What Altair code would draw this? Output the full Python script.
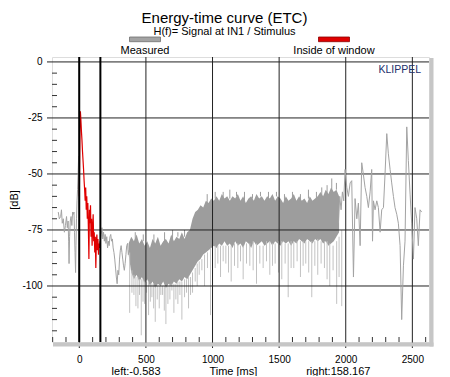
import altair as alt
import pandas as pd

# ---------------- data ----------------
# measured curve, sparse parts (time ms, level dB)
t_a = [-158, -150, -140, -134, -128, -120, -112, -104, -96, -90, -84, -80, -77, -73, -68, -62, -56, -50,
       -44, -40, -36, -32, -28, -25, -21, -17, -13, -9, -5]
d_a = [-67, -70, -69, -66, -72, -70, -76, -73, -69, -74, -71, -80, -90, -78, -71, -69, -73, -67,
       -68, -67, -76, -85, -94, -82, -70, -62, -57, -50, -42]
t_b = [158, 164, 170, 176, 182, 188, 194, 200, 206, 212, 218, 224, 230, 236, 242, 248, 254, 260, 266,
       272, 278, 284, 290, 296, 302, 308, 314, 320, 326, 332, 338, 344, 350, 356, 362, 368, 374]
d_b = [-80, -77, -74, -79, -76, -80, -77, -81, -78, -83, -80, -82, -78, -77, -80, -79, -83, -85, -88,
       -92, -96, -99, -93, -95, -88, -84, -82, -85, -88, -91, -93, -90, -86, -82, -81, -86, -84]
t_c = [1945, 1955, 1965, 1975, 1985, 1995, 2008, 2020, 2033, 2045, 2058, 2070, 2083, 2095, 2108, 2120,
       2132, 2145, 2158, 2170, 2183, 2195, 2201, 2208, 2220, 2233, 2245, 2258, 2270, 2283, 2295, 2308,
       2320, 2333, 2345, 2358, 2370, 2383, 2395, 2408, 2420, 2433, 2445, 2458, 2470, 2483, 2495, 2508,
       2520, 2533, 2545, 2558, 2570]
d_c = [-72, -60, -66, -58, -62, -48, -56, -60, -54, -53, -96, -61, -70, -63, -82, -45,
       -50, -56, -60, -65, -58, -48, -80, -62, -66, -62, -65, -76, -66, -65, -50, -32,
       -41, -48, -54, -60, -65, -68, -72, -82, -115, -91, -80, -29, -44, -59, -72, -88,
       -65, -70, -82, -66, -67]

# measured curve, dense noise band (upper / lower edge), every 20 ms
t_band = [370, 390, 410, 430, 450, 470, 490, 510, 530, 550, 570, 590, 610, 630, 650, 670, 690, 710,
          730, 750, 770, 790, 810, 830, 850, 870, 890, 910, 930, 950, 970, 990, 1010, 1030, 1050,
          1070, 1090, 1110, 1130, 1150, 1170, 1190, 1210, 1230, 1250, 1270, 1290, 1310, 1330, 1350,
          1370, 1390, 1410, 1430, 1450, 1470, 1490, 1510, 1530, 1550, 1570, 1590, 1610, 1630, 1650,
          1670, 1690, 1710, 1730, 1750, 1770, 1790, 1810, 1830, 1850, 1870, 1890, 1910, 1930, 1950]
band_hi = [-81, -78, -80, -77, -81, -79, -82, -80, -83, -79, -81, -78, -82, -80, -79, -81, -77, -80,
           -78, -79, -76, -79, -76, -75, -70, -67, -66, -64, -65, -62, -63, -61, -62, -60, -62,
           -59, -61, -60, -62, -60, -61, -59, -62, -60, -63, -61, -60, -62, -59, -61,
           -60, -62, -60, -61, -59, -62, -60, -61, -63, -60, -62, -61, -59, -62, -60,
           -62, -61, -63, -60, -62, -61, -60, -58, -60, -57, -59, -56, -58, -57, -60]
band_lo = [-86, -94, -97, -95, -98, -96, -99, -97, -100, -98, -101, -99, -100, -98, -101, -99, -100, -98,
           -99, -97, -98, -96, -97, -95, -93, -91, -89, -88, -86, -85, -84, -83, -82, -83, -81,
           -82, -80, -82, -81, -83, -80, -82, -81, -83, -80, -81, -83, -80, -82, -81,
           -80, -82, -81, -80, -82, -80, -81, -82, -80, -81, -80, -82, -80, -81, -79,
           -80, -81, -79, -80, -81, -79, -80, -79, -81, -80, -82, -81, -80, -78, -76]

# measured curve, deep dips below the band
dip_t = [378, 395, 410, 425, 440, 452, 465, 478, 490, 505, 520, 533, 545, 558, 570, 585, 600, 612, 625,
         638, 650, 665, 680, 695, 710, 725, 740, 755, 770, 790, 805, 820, 835, 850, 870, 885, 900, 920,
         940, 962, 985, 1000, 1020, 1040, 1060, 1080, 1100, 1120, 1140, 1165, 1190, 1210, 1230, 1255,
         1280, 1305, 1330, 1355, 1380, 1405, 1430, 1450, 1470, 1495, 1520, 1545, 1568, 1590, 1610, 1635,
         1660, 1680, 1700, 1722, 1745, 1768, 1790, 1815, 1840, 1860, 1880, 1905, 1932, 1950, 1970]
dip_top = [-85, -93, -95, -96, -96, -97, -97, -97, -98, -98, -98, -99, -99, -99, -100, -100, -100, -100,
           -100, -100, -100, -100, -99, -99, -99, -99, -98, -98, -98, -97, -97, -96, -96, -94, -92, -90,
           -89, -88, -86, -85, -83, -83, -82, -82, -82, -82, -82, -82, -82, -81, -81, -82, -82, -81,
           -81, -80, -81, -82, -82, -80, -80, -81, -81, -80, -80, -81, -81, -80, -80, -80, -80, -80,
           -80, -80, -80, -80, -79, -80, -80, -80, -81, -82, -80, -78, -75]
dip_bot = [-112, -103, -104, -109, -110, -104, -122, -107, -108, -103, -113, -107, -105, -110, -116,
           -106, -110, -104, -104, -111, -117, -108, -106, -102, -112, -106, -108, -104, -115, -105,
           -103, -110, -104, -103, -98, -100, -95, -93, -100, -92, -113, -95, -92, -90, -96, -89,
           -90, -94, -98, -91, -92, -89, -97, -90, -91, -93, -99, -90, -92, -89, -95, -91, -90, -94,
           -97, -90, -105, -92, -92, -89, -96, -91, -90, -94, -105, -91, -95, -90, -92, -97, -100,
           -93, -108, -96, -109]

# measured curve, short peaks above the band
peak_t = [420, 480, 560, 640, 700, 740, 790, 960, 1020, 1080, 1130, 1180, 1240, 1300, 1360, 1420, 1480,
          1540, 1600, 1660, 1720, 1780, 1820, 1860, 1895, 1930]
peak_lo = [-80, -80, -81, -80, -79, -78, -78, -63, -61, -61, -61, -60, -62, -61, -60, -61, -60, -62,
           -61, -62, -61, -61, -60, -59, -58, -57]
peak_hi = [-76, -77, -77, -76, -75, -76, -75, -59, -58, -58, -57, -58, -58, -59, -58, -58, -58, -59,
           -58, -59, -57, -58, -56, -55, -52, -54]

# inside of window (red)
t_red = [0, 5, 8, 12, 16, 20, 24, 28, 32, 36, 40, 44, 48, 52, 56, 60, 64, 68, 72, 76, 80, 84, 88, 92,
         96, 100, 104, 108, 112, 116, 120, 124, 128, 132, 136, 140, 144, 148, 152, 156]
d_red = [-60, -30, -22, -26, -31, -35, -40, -44, -48, -53, -57, -62, -56, -66, -60, -70, -63, -74, -88,
         -66, -72, -64, -78, -70, -82, -74, -68, -80, -76, -85, -78, -92, -80, -77, -84, -79, -86, -81,
         -83, -80]

window_pos = [-0.583, 158.167]
series_names = ["Measured", "Inside of window"]
series_colors = ["#a3a3a3", "#e00000"]
series_edges = ["#6e6e6e", "#8a0000"]
x_major = [0, 500, 1000, 1500, 2000, 2500]
y_major = [0, -25, -50, -75, -100]
x_minor = [v for v in range(-200, 2601, 100) if v % 500 != 0]
y_minor = [v for v in range(-120, 0, 5) if v % 25 != 0]

TITLE = "Energy-time curve (ETC)"
SUBTITLE = "H(f)= Signal at IN1 / Stimulus"
NB = "\u00a0" * 16
X_TITLE = "left:-0.583" + NB + "Time [ms]" + NB + "right:158.167"
Y_TITLE = "[dB]"
BRAND = "KLIPPEL"

# ---------------- layout constants (pixels, relative to the plot area) ----------------
W, H = 377, 285
LEG_CENTERS = [93, 282]      # centre of each legend key
LEG_HALF = 15.5              # half width of a legend key
LEG_TOP, LEG_BOT = -20, -15.3
LEG_TEXT_Y = -3.5
FONT = "Liberation Sans"

# ---------------- frames ----------------
gray_df = pd.concat([
    pd.DataFrame({"t": t_a, "d": d_a, "seg": "a"}),
    pd.DataFrame({"t": t_b, "d": d_b, "seg": "b"}),
    pd.DataFrame({"t": t_c, "d": d_c, "seg": "c"}),
])
red_df = pd.DataFrame({"t": t_red, "d": d_red})
band_df = pd.DataFrame({"t": t_band, "hi": band_hi, "lo": band_lo})
dip_df = pd.DataFrame({"t": dip_t, "top": dip_top, "bot": dip_bot})
peak_df = pd.DataFrame({"t": peak_t, "lo": peak_lo, "hi": peak_hi})
win_df = pd.DataFrame({"t": window_pos})

xs = alt.Scale(domain=[-205, 2625], nice=False, zero=False)
ys = alt.Scale(domain=[-125, 2.2], nice=False, zero=False)

x_axis = alt.Axis(
    values=x_major, labelExpr="'' + datum.value", labelOverlap=False,
    title=X_TITLE, ticks=False, domain=False, grid=False,
    labelPadding=12, labelFontSize=10, labelColor="#000",
    titleFontSize=11, titleFontWeight="normal", titlePadding=1, titleColor="#000",
    labelFont=FONT, titleFont=FONT,
)
y_axis = alt.Axis(
    values=y_major, labelExpr="'' + datum.value", labelOverlap=False,
    title=Y_TITLE, ticks=False, domain=False, grid=False,
    labelPadding=10, labelFontSize=10, labelColor="#000",
    titleFontSize=11, titleFontWeight="normal", titlePadding=2, titleColor="#000",
    labelFont=FONT, titleFont=FONT,
)

band = alt.Chart(band_df).mark_area(color="#9d9d9d").encode(
    x=alt.X("t:Q", scale=xs, axis=x_axis), y=alt.Y("lo:Q", scale=ys, axis=y_axis), y2="hi:Q")
dips = alt.Chart(dip_df).mark_rule(color="#c2c2c2", strokeWidth=1).encode(
    x=alt.X("t:Q", scale=xs), y=alt.Y("top:Q", scale=ys), y2="bot:Q")
peaks = alt.Chart(peak_df).mark_rule(color="#9d9d9d", strokeWidth=1).encode(
    x=alt.X("t:Q", scale=xs), y=alt.Y("lo:Q", scale=ys), y2="hi:Q")

# grid lines and ticks (from the tick arrays, placed through the scales)
grid_x = alt.Chart(pd.DataFrame({"v": x_major})).mark_rule(color="#222", strokeWidth=1).encode(
    x=alt.X("v:Q", scale=xs), y=alt.value(0), y2=alt.value(H + 6))
grid_y = alt.Chart(pd.DataFrame({"v": y_major})).mark_rule(color="#222", strokeWidth=1).encode(
    y=alt.Y("v:Q", scale=ys), x=alt.value(-5), x2=alt.value(W))
tick_x = alt.Chart(pd.DataFrame({"v": x_minor})).mark_rule(color="#333", strokeWidth=1).encode(
    x=alt.X("v:Q", scale=xs), y=alt.value(H), y2=alt.value(H - 5))
tick_y = alt.Chart(pd.DataFrame({"v": y_minor})).mark_rule(color="#333", strokeWidth=1).encode(
    y=alt.Y("v:Q", scale=ys), x=alt.value(0), x2=alt.value(5))

gray_line = alt.Chart(gray_df).mark_line(strokeWidth=1, color=series_colors[0]).encode(
    x=alt.X("t:Q", scale=xs), y=alt.Y("d:Q", scale=ys), detail="seg:N", order="t:Q")
red_line = alt.Chart(red_df).mark_line(strokeWidth=1.2, color=series_colors[1]).encode(
    x=alt.X("t:Q", scale=xs), y=alt.Y("d:Q", scale=ys), order="t:Q")
win = alt.Chart(win_df).mark_rule(color="#000", strokeWidth=2).encode(x=alt.X("t:Q", scale=xs))

# legend: a key bar with its label underneath, one per series
legend_layers = []
for name, col, edge, cx in zip(series_names, series_colors, series_edges, LEG_CENTERS):
    one = pd.DataFrame({"name": [name]})
    legend_layers.append(alt.Chart(one).mark_rect(fill=col, stroke=edge, strokeWidth=0.8).encode(
        x=alt.value(cx - LEG_HALF), x2=alt.value(cx + LEG_HALF),
        y=alt.value(LEG_TOP), y2=alt.value(LEG_BOT)))
    legend_layers.append(alt.Chart(one).mark_text(
        align="center", baseline="alphabetic", fontSize=11, font=FONT, color="#000").encode(
        text="name:N", x=alt.value(cx), y=alt.value(LEG_TEXT_Y)))

brand = alt.Chart(pd.DataFrame({"txt": [BRAND]})).mark_text(
    align="right", baseline="alphabetic", fontSize=10.5, font=FONT, color="#23306b"
).encode(text="txt:N", x=alt.value(W - 8), y=alt.value(16))

shadow_r = alt.Chart(pd.DataFrame({"k": [0]})).mark_rule(color="#c6c6c6", strokeWidth=4).encode(
    x=alt.value(W + 2.5), y=alt.value(1), y2=alt.value(H + 4.5))
shadow_b = alt.Chart(pd.DataFrame({"k": [0]})).mark_rule(color="#c6c6c6", strokeWidth=4).encode(
    x=alt.value(1), x2=alt.value(W + 4.5), y=alt.value(H + 2.5))

chart = alt.layer(band, dips, peaks, grid_x, grid_y, tick_x, tick_y, gray_line, red_line, win,
                  brand, shadow_r, shadow_b, *legend_layers).properties(
    width=W, height=H,
    title=alt.TitleParams(TITLE, subtitle=SUBTITLE, anchor="middle", dx=-16, fontSize=15,
                          fontWeight="normal", font=FONT, subtitleFont=FONT, subtitleFontSize=11,
                          subtitleColor="#000", color="#000", offset=0, subtitlePadding=0),
    autosize=alt.AutoSizeParams(type="none"),
    padding={"left": 44, "top": 49, "right": 13, "bottom": 34},
).configure_view(stroke="#555", strokeWidth=1).configure(background="white")

chart.save("out.html", embed_options={"renderer": "svg", "actions": False})
